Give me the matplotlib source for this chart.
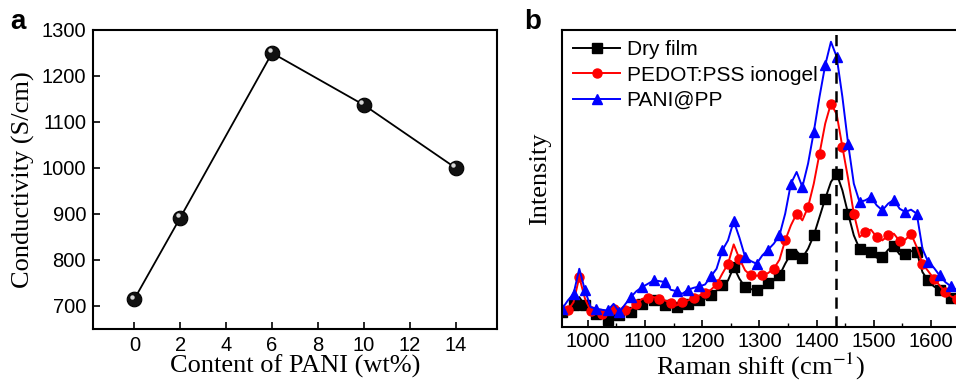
import matplotlib
matplotlib.use("Agg")
import matplotlib.pyplot as plt
import matplotlib.transforms as mtransforms
from matplotlib.ticker import MultipleLocator

# ---- Panel a data ----
pani_content = [0, 2, 6, 10, 14]
conductivity = [715, 892, 1250, 1137, 1000]
a_xticks = [0, 2, 4, 6, 8, 10, 12, 14]
a_yticks = [700, 800, 900, 1000, 1100, 1200, 1300]

# ---- Panel b data (arbitrary intensity units) ----
raman_shift = [955, 965, 975, 985, 995, 1005, 1015, 1025, 1035, 1045,
               1055, 1065, 1075, 1085, 1095, 1105, 1115, 1125, 1135, 1145,
               1155, 1165, 1175, 1185, 1195, 1205, 1215, 1225, 1235, 1245,
               1255, 1265, 1275, 1285, 1295, 1305, 1315, 1325, 1335, 1345,
               1355, 1365, 1375, 1385, 1395, 1405, 1415, 1425, 1435, 1445,
               1455, 1465, 1475, 1485, 1495, 1505, 1515, 1525, 1535, 1545,
               1555, 1565, 1575, 1585, 1595, 1605, 1615, 1625, 1635, 1645]
dry_film = [43, 53, 63, 88, 63, 43, 36, 28, 20, 30,
            33, 40, 43, 53, 66, 73, 78, 68, 63, 60,
            58, 66, 68, 72, 78, 83, 93, 108, 123, 138,
            178, 143, 118, 112, 108, 113, 130, 138, 153, 188,
            218, 226, 206, 233, 273, 328, 383, 433, 458, 408,
            338, 273, 233, 230, 223, 206, 208, 230, 240, 216,
            216, 226, 223, 163, 138, 120, 110, 100, 86, 78]
pedot_ionogel = [38, 48, 73, 148, 83, 46, 40, 38, 48, 53,
                 43, 48, 53, 68, 83, 86, 88, 83, 78, 70,
                 63, 73, 78, 86, 93, 100, 110, 126, 158, 188,
                 246, 203, 168, 153, 152, 154, 160, 173, 200, 258,
                 303, 338, 318, 358, 428, 518, 608, 668, 636, 538,
                 443, 338, 268, 283, 290, 268, 258, 273, 278, 256,
                 260, 278, 238, 188, 166, 143, 123, 103, 90, 83]
pani_pp = [53, 78, 98, 173, 108, 58, 53, 50, 48, 68,
           43, 66, 88, 106, 118, 128, 138, 136, 133, 110,
           106, 98, 110, 116, 120, 126, 150, 173, 228, 258,
           316, 266, 208, 196, 188, 213, 230, 248, 273, 338,
           428, 463, 418, 488, 583, 688, 783, 853, 808, 688,
           548, 428, 373, 378, 388, 363, 348, 368, 380, 353,
           343, 350, 338, 233, 193, 176, 153, 133, 120, 108]
series_names = ["Dry film", "PEDOT:PSS ionogel", "PANI@PP"]
peak_position = 1433
b_xticks = [1000, 1100, 1200, 1300, 1400, 1500, 1600]

plt.rcParams["mathtext.fontset"] = "stix"
SANS = "Liberation Sans"
SERIF = "Liberation Serif"

fig = plt.figure(figsize=(9.56, 3.83), dpi=100)

# ---------------- Panel a ----------------
ax1 = fig.add_axes([0.0973, 0.141, 0.4226, 0.7807])
ax1.plot(pani_content, conductivity, color="black", lw=1.3, zorder=2)
ax1.plot(pani_content, conductivity, ls="none", marker="o", ms=10.5,
         mfc="#111111", mec="black", mew=0.8, zorder=3)
hl = mtransforms.offset_copy(ax1.transData, fig=fig, x=-1.8, y=1.8, units="points")
ax1.plot(pani_content, conductivity, ls="none", marker="o", ms=3.2,
         mfc="#d8d8d8", mec="none", transform=hl, zorder=4)
ax1.set_xlim(-1.8, 15.8)
ax1.set_ylim(650, 1300)
ax1.set_xticks(a_xticks)
ax1.set_yticks(a_yticks)
ax1.tick_params(direction="in", length=5, width=1.2, labelsize=14.5, pad=5)
for lab in ax1.get_xticklabels() + ax1.get_yticklabels():
    lab.set_fontfamily(SANS)
for s in ax1.spines.values():
    s.set_linewidth(1.5)
ax1.set_xlabel("Content of PANI (wt%)", fontfamily=SERIF, fontsize=19, labelpad=0)
ax1.set_ylabel("Conductivity (S/cm)", fontfamily=SERIF, fontsize=19, labelpad=5)
fig.text(0.011, 0.925, "a", fontfamily=SANS, fontweight="bold", fontsize=20)

# ---------------- Panel b ----------------
ax2 = fig.add_axes([0.588, 0.1475, 0.4158, 0.774])
styles = [("black", "s"), ("red", "o"), ("blue", "^")]
datas = [dry_film, pedot_ionogel, pani_pp]
for (c, m), d, name, st in zip(styles, datas, series_names, [0, 1, 0]):
    ax2.plot(raman_shift, d, color=c, lw=1.4, marker=m, ms=6.5,
             markevery=(st, 2), label=name)
ax2.axvline(peak_position, color="black", ls=(0, (4.5, 3)), lw=1.8)
ax2.set_xlim(955, 1650)
ax2.set_ylim(0, 888)
ax2.set_xticks(b_xticks)
ax2.xaxis.set_minor_locator(MultipleLocator(50))
ax2.set_yticks([])
ax2.tick_params(axis="x", which="major", direction="in", length=5, width=1.2,
                labelsize=14.5, pad=4)
ax2.tick_params(axis="x", which="minor", direction="in", length=3, width=1.0)
for lab in ax2.get_xticklabels():
    lab.set_fontfamily(SANS)
for s in ax2.spines.values():
    s.set_linewidth(1.5)
ax2.set_xlabel("Raman shift (cm$^{-1}$)", fontfamily=SERIF, fontsize=19, labelpad=0)
ax2.set_ylabel("Intensity", fontfamily=SERIF, fontsize=19, labelpad=8)
leg = ax2.legend(loc="upper left", frameon=False, prop={"family": SANS, "size": 15},
                 handlelength=2.3, handletextpad=0.3, labelspacing=0.3,
                 borderaxespad=0.1, bbox_to_anchor=(0.0, 1.0))
fig.text(0.548, 0.925, "b", fontfamily=SANS, fontweight="bold", fontsize=20)

fig.savefig("out.png", dpi=100)
